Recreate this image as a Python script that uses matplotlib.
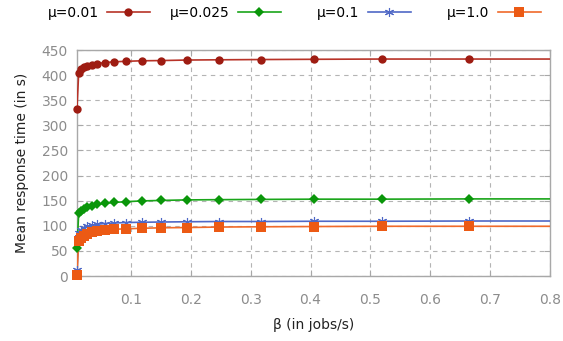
import matplotlib
matplotlib.use("Agg")
import matplotlib.pyplot as plt
from matplotlib.lines import Line2D
import numpy as np

# Arrival rate beta (jobs/s); the last point lies past the axis limit
beta = [0.0100, 0.0128, 0.0164, 0.0210, 0.0268, 0.0344, 0.0440, 0.0563, 0.0721,
        0.0922, 0.118, 0.151, 0.193, 0.248, 0.317, 0.406, 0.519, 0.665, 0.851]

# Mean response time (s) for each service rate mu
resp_mu_001 = [333, 405, 412, 416, 419, 421, 423, 425, 426.5, 427.5, 428.5, 429,
               430, 430.5, 431, 431.5, 432, 432, 432]
resp_mu_0025 = [55, 125, 130, 134, 137, 140, 142.5, 144.5, 146.5, 148, 149.5, 150.5,
                151.5, 152, 152.5, 153, 153, 153.5, 153.5]
resp_mu_01 = [11, 86, 92, 96, 99, 101, 103, 104.5, 105.5, 106.5, 107, 107.5, 108,
              108.5, 108.5, 109, 109, 109.5, 109.5]
resp_mu_1 = [2, 70, 76, 80, 84, 87, 89.5, 91.5, 93, 94, 95, 96, 96.5, 97.5, 98,
             98.5, 99, 99, 99]

labels = ["μ=0.01", "μ=0.025", "μ=0.1", "μ=1.0"]
y_ticks = [0, 50, 100, 150, 200, 250, 300, 350, 400, 450]
x_ticks = [0.1, 0.2, 0.3, 0.4, 0.5, 0.6, 0.7, 0.8]

series = [
    (resp_mu_001, dict(line="#b83328", face="#9e1c12", marker="o", ms=6.0, mew=0)),
    (resp_mu_0025, dict(line="#1aa51a", face="#0a960a", marker="D", ms=5.2, mew=0)),
    (resp_mu_01, dict(line="#4f68c6", face="#4f68c6", marker=(6, 2, 0), ms=6.5, mew=0.8)),
    (resp_mu_1, dict(line="#f06a2a", face="#ec5a14", marker="s", ms=6.6, mew=0)),
]

plt.rcParams["font.family"] = ["DejaVu Sans"]
plt.rcParams["font.size"] = 10

W, H = 563, 341
fig = plt.figure(figsize=(W / 100, H / 100), dpi=100)
ax = fig.add_axes([77 / W, 1 - 276 / H, (550 - 77) / W, (276 - 50) / H])

grey = "#a8a8a8"
b = np.array(beta)
inside = b <= 0.8
for vals, st in series:
    v = np.array(vals)
    ax.plot(b, v, color=st["line"], lw=1.2, zorder=3)
    ax.plot(b[inside], v[inside], ls="none", marker=st["marker"], ms=st["ms"],
            mfc=st["face"], mec=st["face"], mew=st["mew"], zorder=4, clip_on=False)

ax.set_xlim(0.01, 0.8)
ax.set_ylim(0, 450)
ax.set_xticks(x_ticks)
ax.set_xticklabels([f"{t:g}" for t in x_ticks])
ax.set_yticks(y_ticks)

ax.grid(True, color="#b4b4b4", ls=(0, (4, 4)), lw=0.8)
ax.set_axisbelow(True)
for s in ax.spines.values():
    s.set_color(grey)
    s.set_linewidth(1.0)
ax.tick_params(axis="both", direction="in", top=True, right=True, length=4,
               color=grey, labelcolor="#8c8c8c", labelsize=10)
ax.tick_params(axis="x", pad=12)
ax.tick_params(axis="y", pad=6.5)

ax.set_xlabel("β (in jobs/s)", color="#222222", fontsize=10, labelpad=8)
ax.set_ylabel("Mean response time (in s)", color="#222222", fontsize=10, labelpad=9)

# Key: one entry per column, text to the left of each sample
right_edges = [150, 281, 411, 541]
for (vals, st), lab, xr in zip(series, labels, right_edges):
    h = Line2D([], [], color=st["line"], lw=1.2, marker=st["marker"], ms=st["ms"],
               mfc=st["face"], mec=st["face"], mew=st["mew"])
    fig.legend([h], [lab], loc="center right", bbox_to_anchor=(xr / W, 1 - 13 / H),
               frameon=False, markerfirst=False, borderpad=0, borderaxespad=0,
               handlelength=3.1, handletextpad=0.6, numpoints=1, fontsize=10)

fig.savefig("out.png", dpi=100)
